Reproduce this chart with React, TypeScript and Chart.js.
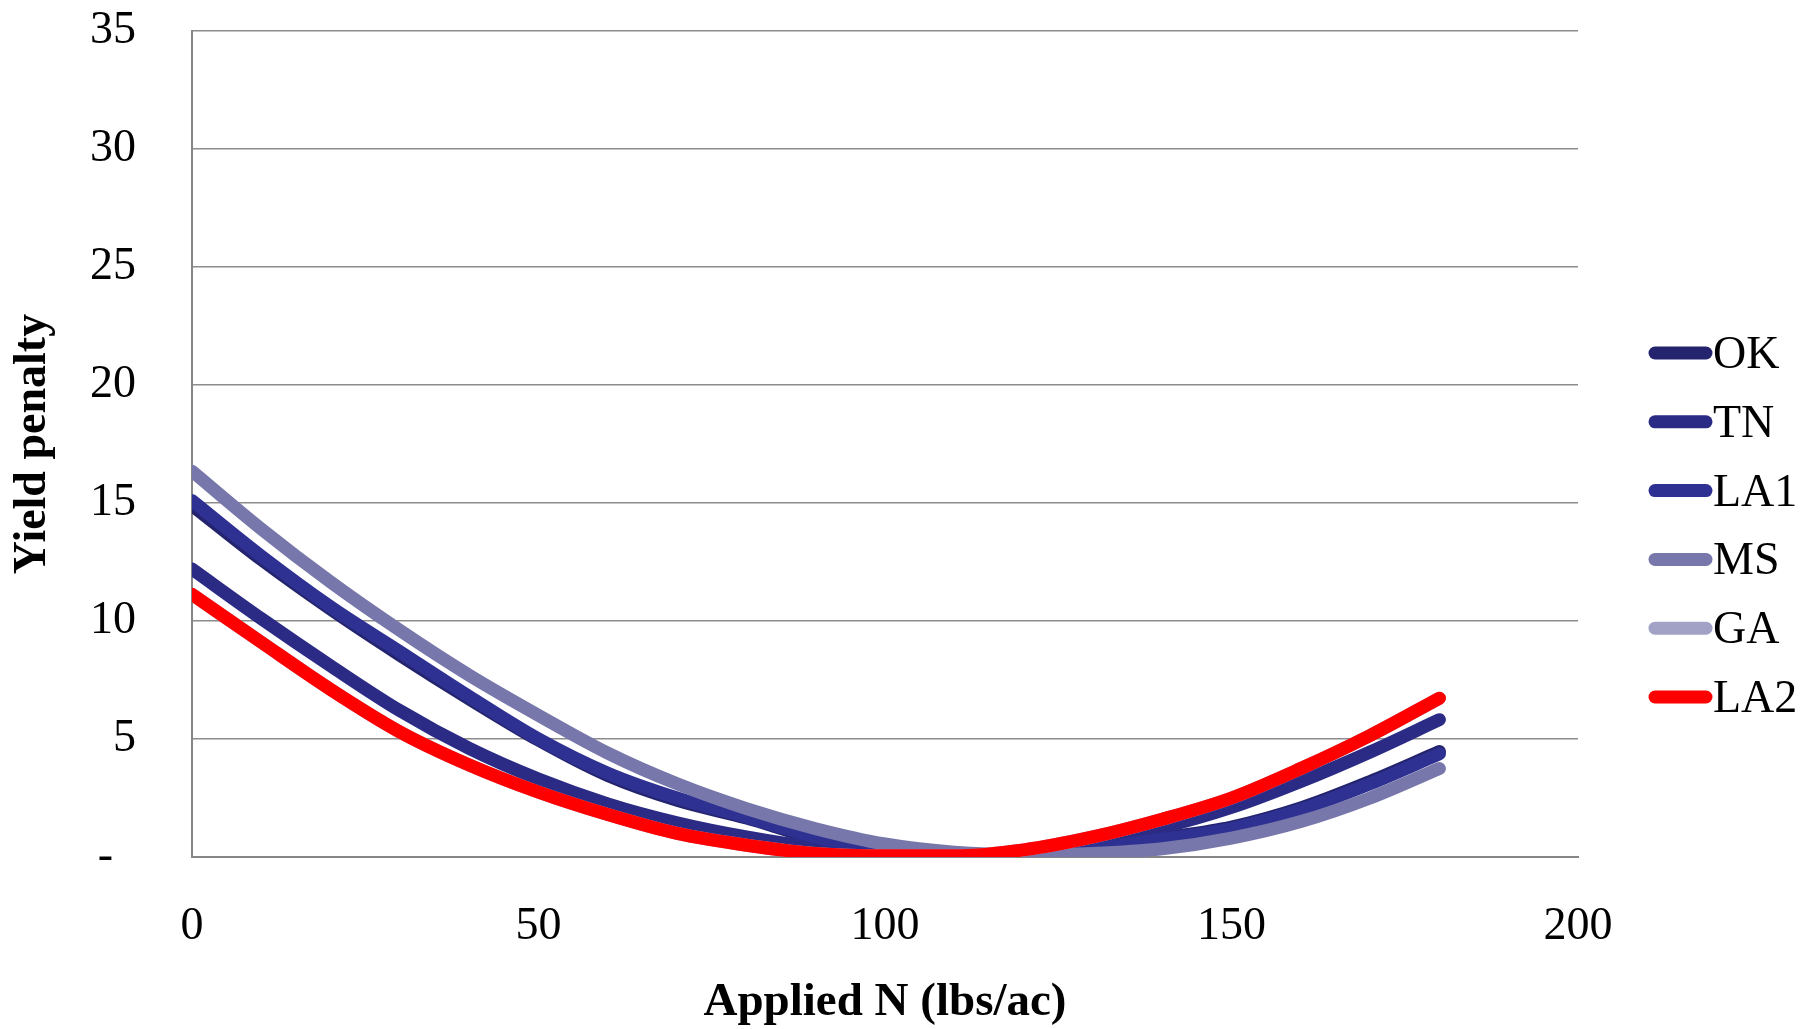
import React, { useEffect, useRef } from "react";
import { Chart, registerables } from "chart.js";

Chart.register(...registerables);

// Applied N (lbs/ac)
const appliedN = [0, 10, 20, 30, 40, 50, 60, 70, 80, 90, 100, 110, 120, 130, 140, 150, 160, 170, 180];

// Yield penalty per location
const okValues = [14.9, 12.6, 10.5, 8.55, 6.7, 4.95, 3.45, 2.4, 1.65, 0.8, 0.3, 0.1, 0.12, 0.38, 0.8, 1.27, 2.08, 3.2, 4.47];
const tnValues = [12.2, 10.1, 8.1, 6.2, 4.6, 3.3, 2.25, 1.45, 0.85, 0.4, 0.15, 0.08, 0.12, 0.6, 1.25, 2.1, 3.2, 4.45, 5.82];
const la1Values = [15.1, 12.75, 10.6, 8.7, 6.8, 5.0, 3.55, 2.5, 1.7, 0.85, 0.3, 0.1, 0.1, 0.35, 0.75, 1.2, 2.0, 3.1, 4.37];
const msValues = [16.35, 13.9, 11.65, 9.6, 7.7, 6.0, 4.4, 3.1, 2.05, 1.2, 0.55, 0.2, 0.1, 0.15, 0.35, 0.8, 1.5, 2.5, 3.75];
const gaValues = [11.13, 9.1, 7.1, 5.3, 3.9, 2.75, 1.8, 1.0, 0.5, 0.15, 0.05, 0.05, 0.3, 0.85, 1.6, 2.5, 3.75, 5.15, 6.73];
const la2Values = [11.13, 9.1, 7.1, 5.3, 3.9, 2.75, 1.8, 1.0, 0.5, 0.15, 0.05, 0.05, 0.3, 0.85, 1.6, 2.5, 3.75, 5.15, 6.73];

const seriesLabels = ["OK", "TN", "LA1", "MS", "GA", "LA2"];
const seriesColors = ["#24246E", "#2B2B86", "#2E3192", "#7777AB", "#A2A2C7", "#FF0000"];
const seriesValues = [okValues, tnValues, la1Values, msValues, gaValues, la2Values];
const seriesOrder = [5, 4, 3, 2, 1, 0];

const xTickLabels = ["0", "50", "100", "150", "200"];
const yTickLabels = ["-\u2007", "5", "10", "15", "20", "25", "30", "35"];

const FONT = "'Liberation Serif', 'Times New Roman', serif";

const legendPlugin = {
  id: "customLegend",
  afterDraw(chart: any) {
    const ctx = chart.ctx;
    ctx.save();
    chart.data.datasets.forEach((ds: any, i: number) => {
      const y = 353 + i * 68.8;
      ctx.beginPath();
      ctx.strokeStyle = ds.borderColor;
      ctx.lineWidth = 13;
      ctx.lineCap = "round";
      ctx.moveTo(1655, y);
      ctx.lineTo(1706, y);
      ctx.stroke();
      ctx.fillStyle = "#000";
      ctx.font = `46px ${FONT}`;
      ctx.textAlign = "left";
      ctx.textBaseline = "middle";
      ctx.fillText(ds.label, 1713, y + 3);
    });
    ctx.restore();
  },
};

export default function App() {
  const ref = useRef<HTMLCanvasElement | null>(null);
  useEffect(() => {
    document.body.style.margin = "0";
    const canvas = ref.current;
    if (!canvas) return;
    const datasets = seriesLabels.map((label, i) => ({
      label,
      data: appliedN.map((n, j) => ({ x: n, y: seriesValues[i][j] })),
      borderColor: seriesColors[i],
      backgroundColor: seriesColors[i],
      borderWidth: 13,
      borderCapStyle: "round" as const,
      borderJoinStyle: "round" as const,
      pointRadius: 0,
      cubicInterpolationMode: "monotone" as const,
      fill: false,
      order: seriesOrder[i],
    }));
    const chart = new Chart(canvas, {
      type: "line",
      data: { datasets },
      options: {
        animation: false,
        responsive: false,
        devicePixelRatio: 1,
        layout: { padding: { left: 0, top: 31, right: 225, bottom: 0 } },
        plugins: { legend: { display: false }, tooltip: { enabled: false } },
        scales: {
          x: {
            type: "linear",
            min: 0,
            max: 200,
            afterFit: (s: any) => {
              s.height = 172;
              s.paddingLeft = 0;
              s.paddingRight = 0;
            },
            ticks: {
              stepSize: 50,
              padding: 42,
              color: "#000",
              font: { family: FONT, size: 46 },
              callback: (_v: any, idx: number) => xTickLabels[idx],
            },
            grid: { display: false, drawTicks: false },
            border: { display: true, color: "#868686", width: 2 },
            title: {
              display: true,
              text: "Applied N (lbs/ac)",
              color: "#000",
              font: { family: FONT, size: 47, weight: "bold", lineHeight: 1.1 },
              padding: { top: 0, bottom: 0 },
            },
          },
          y: {
            type: "linear",
            min: 0,
            max: 35,
            afterFit: (s: any) => {
              s.width = 192;
              s.paddingTop = 0;
              s.paddingBottom = 0;
            },
            ticks: {
              stepSize: 5,
              padding: 56,
              color: "#000",
              font: { family: FONT, size: 46 },
              callback: (_v: any, idx: number) => yTickLabels[idx],
            },
            grid: { color: "#8c8c8c", lineWidth: 1.5, drawTicks: false },
            border: { display: true, color: "#868686", width: 2 },
            title: {
              display: true,
              text: "Yield penalty",
              color: "#000",
              font: { family: FONT, size: 46, weight: "bold" },
              padding: { top: 6, bottom: 0 },
            },
          },
        },
      },
      plugins: [legendPlugin],
    });
    return () => chart.destroy();
  }, []);
  return <canvas ref={ref} width={1803} height={1029} style={{ display: "block" }} />;
}
